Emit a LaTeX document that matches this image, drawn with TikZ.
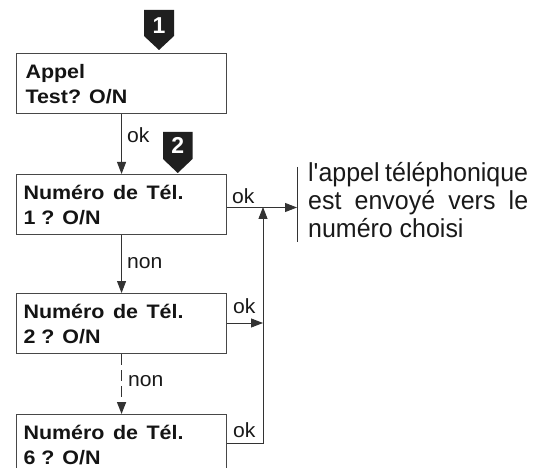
\documentclass[tikz,border=0pt]{standalone}
\usepackage{fontspec}
\setmainfont{Liberation Sans}
\newfontfamily\boxfont{Liberation Sans}[FakeStretch=1.1]
\newfontfamily\lblfont{Liberation Sans}[FakeStretch=1.03]
\newfontfamily\rfont{Liberation Sans}[FakeStretch=0.96]
\usetikzlibrary{arrows.meta}
\newcommand\boxlines[3]{\vbox to 60pt{\offinterlineskip\kern24.5pt\hbox to 210pt{\hskip#1\smash{#2}\hss}\kern25pt\hbox to 210pt{\hskip#1\smash{#3}\hss}\vss}}
\tikzset{
  box/.style={draw=black!72, line width=1.1pt, inner sep=0pt, anchor=north west,
    font={\boxfont\bfseries\fontsize{19.5pt}{22pt}\selectfont}, text=black!92},
  conn/.style={draw=black!80, line width=0.9pt},
  arr/.style={-{Triangle[length=12pt,width=9pt]}},
  lbl/.style={inner sep=0pt, anchor=base west, text=black!90,
    font={\lblfont\fontsize{20.5pt}{22pt}\selectfont}},
  rtext/.style={inner sep=0pt, anchor=base west, text=black!90,
    font={\rfont\fontsize{26pt}{27pt}\selectfont}},
  badgebg/.style={fill=black!88},
  badge/.style={inner sep=0pt, text=white, font={\bfseries\fontsize{23pt}{22pt}\selectfont}}
}
\begin{document}
\begin{tikzpicture}[x=1pt,y=-1pt]
\clip (0,0) rectangle (544,468);
\fill[white] (0,0) rectangle (544,468);
% badges
\fill[badgebg] (144,10) -- (174,10) -- (174,36) -- (159,50) -- (144,36) -- cycle;
\node[badge] (n1) at (159,25.5) {1};
\fill[badgebg] (163,132) -- (192.5,132) -- (192.5,159) -- (177.75,173) -- (163,159) -- cycle;
\node[badge] (n2) at (177.75,145.5) {2};
% boxes
\node[box] (b1) at (16,53) {\boxlines{9pt}{Appel}{Test? O/N}};
\node[box] (b2) at (16,174) {\boxlines{7pt}{Numéro\hspace{8.5pt}de\hspace{8.5pt}Tél.}{1 ? O/N}};
\node[box] (b3) at (16,293) {\boxlines{7pt}{Numéro\hspace{8.5pt}de\hspace{8.5pt}Tél.}{2 ? O/N}};
\node[box] (b6) at (16,414) {\boxlines{7pt}{Numéro\hspace{8.5pt}de\hspace{8.5pt}Tél.}{6 ? O/N}};
% vertical connectors
\draw[conn, arr] (b1.south) -- (b2.north);
\node[lbl] (ok1) at (127,143) {ok};
\draw[conn, arr] (b2.south) -- (b3.north);
\node[lbl] (non1) at (127,268) {non};
\draw[conn, arr, line width=1.5pt, dash pattern=on 11pt off 5pt] (b3.south) -- (b6.north);
\node[lbl] (non2) at (128,386) {non};
% right side
\coordinate (j2) at (263,207.5);
\coordinate (tip) at (297,207.5);
\coordinate (j3) at (263,323);
\coordinate (j6) at (263,443);
\coordinate (bt) at (297,167);
\coordinate (bb) at (297,242);
\draw[conn] (bt) -- (bb);
\draw[conn, arr] (b2.east |- j2) -- (tip);
\draw[conn, arr] (b3.east |- j3) -- (j3);
\draw[conn, arr] (b6.east |- j6) -- (j6) -- ([yshift=0.5pt]j2);
\node[lbl] (ok2) at (232,204) {ok};
\node[lbl] (ok3) at (233,313) {ok};
\node[lbl] (ok6) at (233,437) {ok};
% text
\node[rtext] (t1) at (308,182) {\makebox[220pt][s]{l'appel téléphonique}};
\node[rtext] (t2) at (308,210) {\makebox[220pt][s]{est envoyé vers le}};
\node[rtext] (t3) at (308,237) {numéro choisi};
\end{tikzpicture}
\end{document}
